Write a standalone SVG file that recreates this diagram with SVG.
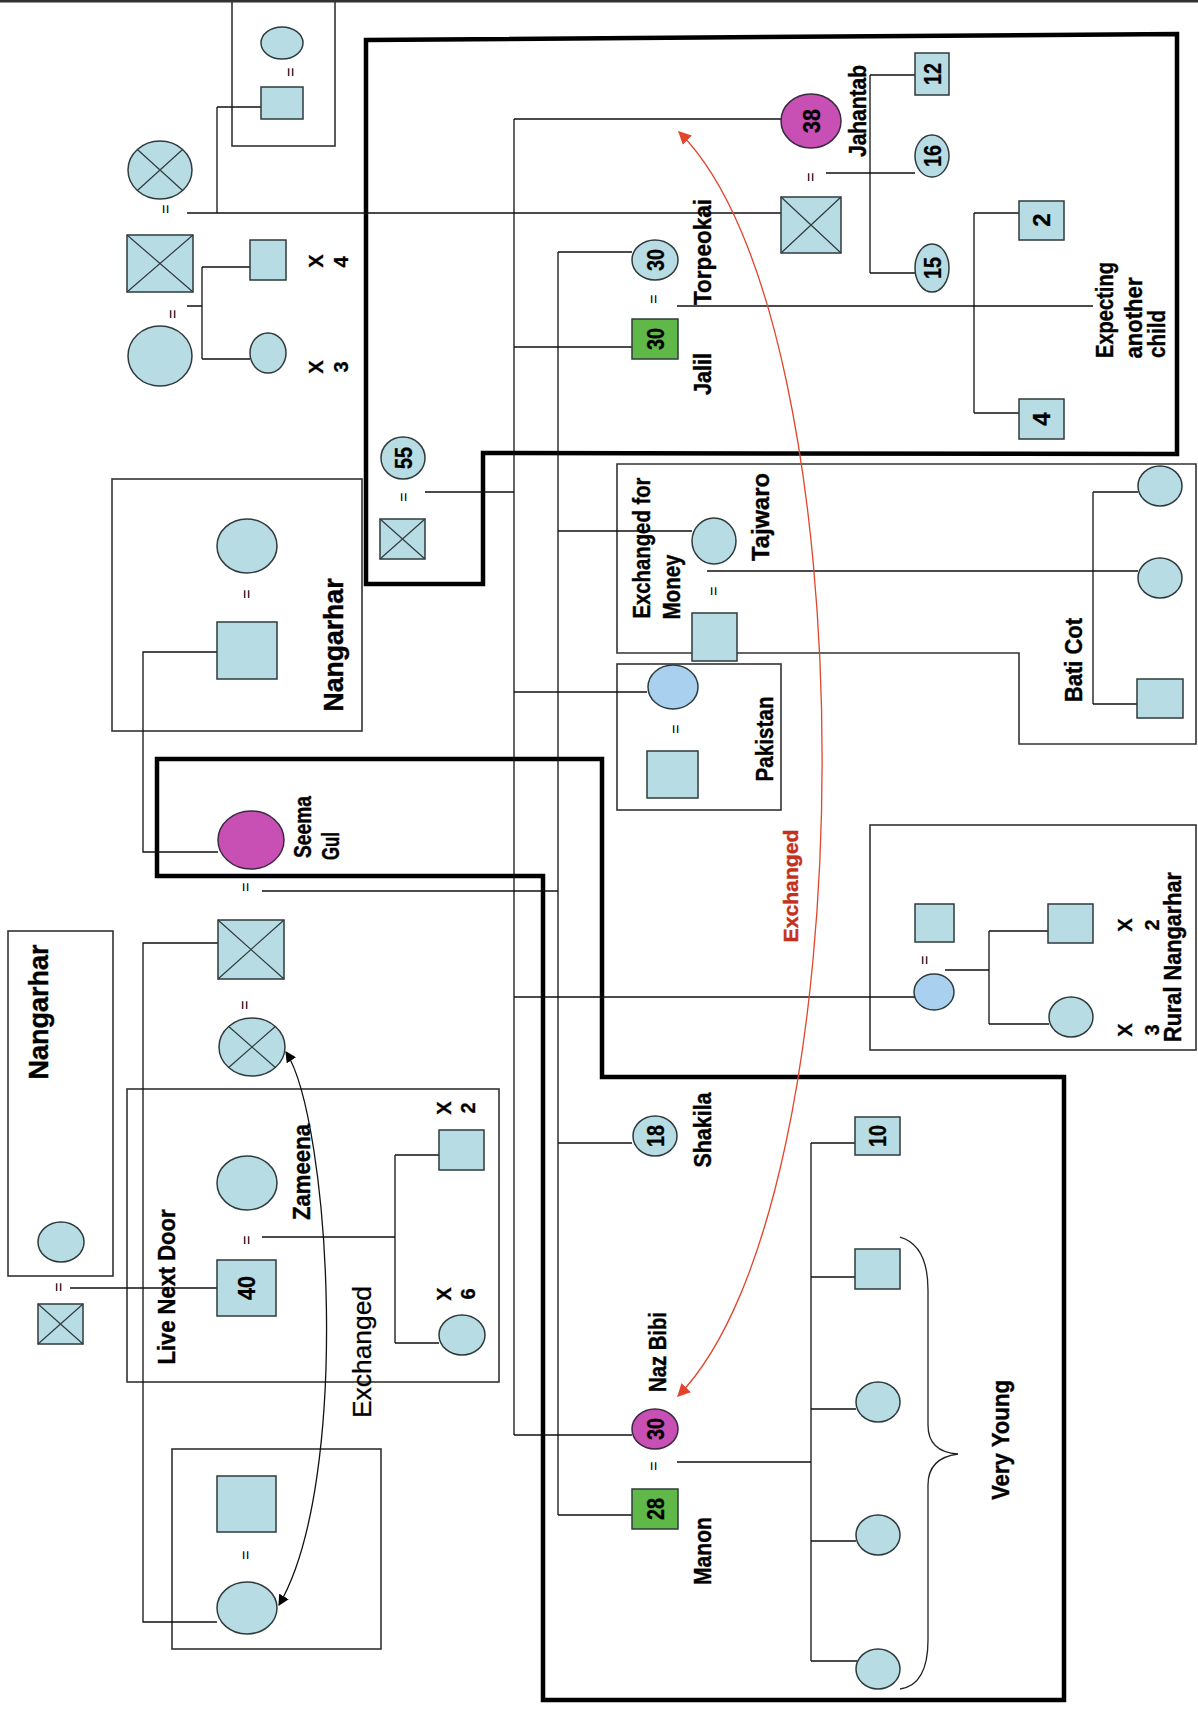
<svg xmlns="http://www.w3.org/2000/svg" width="1198" height="1723" viewBox="0 0 1198 1723">
<style>
.bg{fill:#ffffff}
.n{fill:#b8dce4;stroke:#2f3b3d;stroke-width:1.5}
.mag{fill:#c84fb4;stroke:#3a2a40;stroke-width:1.5}
.grn{fill:#5fb847;stroke:#2f3b3d;stroke-width:1.5}
.blu{fill:#a9d0ee;stroke:#2f3b3d;stroke-width:1.5}
.x{stroke:#2f3b3d;stroke-width:1.2;fill:none}
.box{fill:none;stroke:#333;stroke-width:1.6}
.thick{fill:none;stroke:#000;stroke-width:4.5;stroke-linejoin:miter}
.ln{fill:none;stroke:#111;stroke-width:1.3}
.lbl{font-family:"Liberation Sans",Arial,sans-serif;font-weight:bold;font-size:24px;fill:#000;text-anchor:middle;dominant-baseline:central;stroke:#000;stroke-width:0.4}
.big{font-size:28px}
.num{font-family:"Liberation Sans",Arial,sans-serif;font-weight:bold;font-size:24px;fill:#000;text-anchor:middle;dominant-baseline:central;stroke:#000;stroke-width:0.3}
.eq{font-family:"Liberation Sans",Arial,sans-serif;font-size:16px;fill:#000;text-anchor:middle;dominant-baseline:central}
.sm{font-family:"Liberation Sans",Arial,sans-serif;font-weight:bold;font-size:20px;fill:#000;text-anchor:middle;dominant-baseline:central;stroke:#000;stroke-width:0.3}
</style>
<defs>
<marker id="ab" viewBox="0 0 10 10" refX="9" refY="5" markerWidth="11" markerHeight="11" markerUnits="userSpaceOnUse" orient="auto-start-reverse"><path d="M0,0 L10,5 L0,10 z" fill="#000"/></marker>
<marker id="ar" viewBox="0 0 10 10" refX="9" refY="5" markerWidth="13" markerHeight="13" markerUnits="userSpaceOnUse" orient="auto-start-reverse"><path d="M0,0 L10,5 L0,10 z" fill="#e2452c"/></marker>
</defs>
<rect class="bg" x="0" y="0" width="1198" height="1723"/>
<line x1="0" y1="1.2" x2="1198" y2="1.2" stroke="#333" stroke-width="2.6"/>

<g id="regions">
<rect class="box" x="232" y="-1" width="103" height="147"/>
<rect class="box" x="112" y="479" width="250" height="252"/>
<polygon class="box" points="617,464 1196,464 1196,744 1019,744 1019,653 617,653"/>
<rect class="box" x="617" y="664" width="164" height="146"/>
<rect class="box" x="870" y="825" width="326" height="225"/>
<rect class="box" x="8" y="931" width="105" height="345"/>
<rect class="box" x="127" y="1089" width="372" height="293"/>
<rect class="box" x="172" y="1449" width="209" height="200"/>
<polygon class="thick" points="366,40 1177,34 1177,454 483,453 483,584 366,584"/>
<polygon class="thick" points="157,759 602,759 602,1077 1064,1077 1064,1700 543,1700 543,876 157,876"/>
</g>

<g id="connectors">
<path class="ln" d="M187,213 H781 M217,107 H261 M217,107 V213"/>
<path class="ln" d="M187,306 H202 M202,267 V359 M202,267 H250 M202,359 H250"/>
<path class="ln" d="M514,119 H781 M826,173 H915 M870,75 V273 M870,75 H915 M870,273 H915"/>
<path class="ln" d="M558,252 H632 M514,347 H632 M677,306 H1093 M974,213 V413 M974,213 H1019 M974,413 H1019"/>
<path class="ln" d="M425,492 H514 M514,119 V1435 M558,252 V1515"/>
<path class="ln" d="M217,652 H143 V852 H218"/>
<path class="ln" d="M262,891 H558"/>
<path class="ln" d="M218,943 H143 V1622 H217"/>
<path class="ln" d="M558,531 H692 M707,571 H1138 M1093,492 V704 M1093,492 H1138 M1093,704 H1137"/>
<path class="ln" d="M514,692 H647"/>
<path class="ln" d="M514,997 H915 M945,970 H989 M989,931 V1024 M989,931 H1048 M989,1024 H1049"/>
<path class="ln" d="M558,1143 H632"/>
<path class="ln" d="M514,1435 H632 M558,1515 H632 M677,1462 H811 M811,1143 V1661 M811,1143 H855 M811,1277 H855 M811,1409 H856 M811,1541 H856 M811,1661 H857"/>
<path class="ln" d="M262,1237 H395 M395,1155 V1343 M395,1155 H439 M395,1343 H439"/>
<path class="ln" d="M70,1288 H217"/>
<path d="M900,1237 Q928,1245 928,1290 L928,1425 Q928,1452 958,1454 Q928,1458 928,1485 L928,1640 Q928,1685 900,1689" fill="none" stroke="#222" stroke-width="1.3"/>
<path d="M286,1052 C330,1120 352,1480 279,1605" fill="none" stroke="#111" stroke-width="1.3" marker-start="url(#ab)" marker-end="url(#ab)"/>
<path d="M679,132 C870,320 870,1200 678,1396" fill="none" stroke="#e2452c" stroke-width="1.3" marker-start="url(#ar)" marker-end="url(#ar)"/>
</g>

<g id="top-family">
<g id="n-top-wife"><ellipse class="n" cx="282" cy="43" rx="21" ry="16"/></g>
<text class="eq" transform="translate(290,72) rotate(-90)">=</text>
<g id="n-top-husband"><rect class="n" x="261" y="87" width="42" height="32"/></g>
<g id="n-gm1"><ellipse class="n" cx="160" cy="170" rx="32" ry="29"/><path class="x" d="M137.4,149.5 L182.6,190.5 M182.6,149.5 L137.4,190.5"/></g>
<text class="eq" transform="translate(165,209) rotate(-90)">=</text>
<g id="n-gf1"><rect class="n" x="127" y="235" width="66" height="57"/><path class="x" d="M127,235 L193,292 M193,235 L127,292"/></g>
<text class="eq" transform="translate(172,314) rotate(-90)">=</text>
<g id="n-gm2"><ellipse class="n" cx="160" cy="356" rx="32" ry="30"/></g>
<g id="n-sons4"><rect class="n" x="250" y="240" width="36" height="40"/></g>
<g id="n-daughters3"><ellipse class="n" cx="268" cy="353" rx="18" ry="20"/></g>
<text class="sm" transform="translate(316,261) rotate(-90)">X</text>
<text class="sm" transform="translate(341,262) rotate(-90)">4</text>
<text class="sm" transform="translate(316,367) rotate(-90)">X</text>
<text class="sm" transform="translate(341,367) rotate(-90)">3</text>
</g>

<g id="jalil-family">
<g id="n-jahantab"><ellipse class="mag" cx="811" cy="121" rx="30" ry="27"/><text class="num" transform="translate(811,121) rotate(-90)" textLength="24" lengthAdjust="spacingAndGlyphs">38</text></g>
<text class="lbl" transform="translate(857,111) rotate(-90)" textLength="92" lengthAdjust="spacingAndGlyphs">Jahantab</text>
<text class="eq" transform="translate(810,177) rotate(-90)">=</text>
<g id="n-jahantab-husband"><rect class="n" x="781" y="197" width="60" height="56"/><path class="x" d="M781,197 L841,253 M841,197 L781,253"/></g>
<g id="n-12"><rect class="n" x="915" y="53" width="34" height="42"/><text class="num" transform="translate(932,74) rotate(-90)" textLength="22" lengthAdjust="spacingAndGlyphs">12</text></g>
<g id="n-16"><ellipse class="n" cx="932" cy="156" rx="17" ry="21"/><text class="num" transform="translate(932,156) rotate(-90)" textLength="22" lengthAdjust="spacingAndGlyphs">16</text></g>
<g id="n-15"><ellipse class="n" cx="932" cy="268" rx="17" ry="24"/><text class="num" transform="translate(932,268) rotate(-90)" textLength="22" lengthAdjust="spacingAndGlyphs">15</text></g>
<g id="n-torpeokai"><ellipse class="n" cx="655" cy="260" rx="23" ry="20"/><text class="num" transform="translate(655,260) rotate(-90)" textLength="22" lengthAdjust="spacingAndGlyphs">30</text></g>
<text class="lbl" transform="translate(702,252) rotate(-90)" textLength="106" lengthAdjust="spacingAndGlyphs">Torpeokai</text>
<text class="eq" transform="translate(653,299) rotate(-90)">=</text>
<g id="n-jalil"><rect class="grn" x="632" y="319" width="46" height="40"/><text class="num" transform="translate(655,339) rotate(-90)" textLength="22" lengthAdjust="spacingAndGlyphs">30</text></g>
<text class="lbl" transform="translate(702,374) rotate(-90)" textLength="42" lengthAdjust="spacingAndGlyphs">Jalil</text>
<g id="n-2"><rect class="n" x="1019" y="201" width="45" height="39"/><text class="num" transform="translate(1041,220) rotate(-90)">2</text></g>
<g id="n-4"><rect class="n" x="1019" y="399" width="45" height="40"/><text class="num" transform="translate(1041,419) rotate(-90)">4</text></g>
<text class="lbl" transform="translate(1104,310) rotate(-90)" textLength="96" lengthAdjust="spacingAndGlyphs">Expecting</text>
<text class="lbl" transform="translate(1133,318) rotate(-90)" textLength="81" lengthAdjust="spacingAndGlyphs">another</text>
<text class="lbl" transform="translate(1156,334) rotate(-90)" textLength="48" lengthAdjust="spacingAndGlyphs">child</text>
</g>

<g id="elders">
<g id="n-55"><ellipse class="n" cx="403" cy="458" rx="22" ry="21"/><text class="num" transform="translate(403,458) rotate(-90)" textLength="22" lengthAdjust="spacingAndGlyphs">55</text></g>
<text class="eq" transform="translate(403,497) rotate(-90)">=</text>
<g id="n-55-husband"><rect class="n" x="380" y="519" width="45" height="40"/><path class="x" d="M380,519 L425,559 M425,519 L380,559"/></g>
</g>

<g id="nangarhar-upper">
<g id="n-ng-wife"><ellipse class="n" cx="247" cy="546" rx="30" ry="27"/></g>
<text class="eq" transform="translate(246,594) rotate(-90)">=</text>
<g id="n-ng-husband"><rect class="n" x="217" y="622" width="60" height="57"/></g>
<text class="lbl big" transform="translate(333,645) rotate(-90)" textLength="133" lengthAdjust="spacingAndGlyphs">Nangarhar</text>
</g>

<g id="seema-family">
<g id="n-seema"><ellipse class="mag" cx="251" cy="840" rx="33" ry="29"/></g>
<text class="lbl" transform="translate(302,827) rotate(-90)" textLength="62" lengthAdjust="spacingAndGlyphs">Seema</text>
<text class="lbl" transform="translate(330,846) rotate(-90)" textLength="28" lengthAdjust="spacingAndGlyphs">Gul</text>
<text class="eq" transform="translate(245,887) rotate(-90)">=</text>
<g id="n-seema-husband"><rect class="n" x="218" y="920" width="66" height="59"/><path class="x" d="M218,920 L284,979 M284,920 L218,979"/></g>
<text class="eq" transform="translate(244,1005) rotate(-90)">=</text>
<g id="n-x-wife"><ellipse class="n" cx="252" cy="1047" rx="33" ry="29"/><path class="x" d="M228.7,1026.5 L275.3,1067.5 M275.3,1026.5 L228.7,1067.5"/></g>
</g>

<g id="tajwaro-family">
<g id="n-tajwaro"><ellipse class="n" cx="714" cy="541" rx="22" ry="23"/></g>
<text class="lbl" transform="translate(760,517) rotate(-90)" textLength="88" lengthAdjust="spacingAndGlyphs">Tajwaro</text>
<text class="lbl" transform="translate(641,548) rotate(-90)" textLength="141" lengthAdjust="spacingAndGlyphs">Exchanged  for</text>
<text class="lbl" transform="translate(671,587) rotate(-90)" textLength="65" lengthAdjust="spacingAndGlyphs">Money</text>
<text class="eq" transform="translate(713,591) rotate(-90)">=</text>
<g id="n-tajwaro-husband"><rect class="n" x="692" y="613" width="45" height="48"/></g>
<g id="n-bc1"><ellipse class="n" cx="1160" cy="486" rx="22" ry="20"/></g>
<g id="n-bc2"><ellipse class="n" cx="1160" cy="578" rx="22" ry="20"/></g>
<g id="n-bc3"><rect class="n" x="1137" y="679" width="46" height="39"/></g>
<text class="lbl" transform="translate(1073,660) rotate(-90)" textLength="84" lengthAdjust="spacingAndGlyphs">Bati Cot</text>
</g>

<g id="pakistan-family">
<g id="n-pk-wife"><ellipse class="blu" cx="673" cy="687" rx="25" ry="22"/></g>
<text class="eq" transform="translate(675,729) rotate(-90)">=</text>
<g id="n-pk-husband"><rect class="n" x="647" y="751" width="51" height="47"/></g>
<text class="lbl" transform="translate(764,739) rotate(-90)" textLength="85" lengthAdjust="spacingAndGlyphs">Pakistan</text>
</g>

<text class="lbl" transform="translate(790,886) rotate(-90)" textLength="113" lengthAdjust="spacingAndGlyphs" style="fill:#c4301c;stroke:#c4301c;font-size:21px">Exchanged</text>

<g id="rural-family">
<g id="n-rn-wife"><ellipse class="blu" cx="934" cy="992" rx="20" ry="18"/></g>
<text class="eq" transform="translate(924,960) rotate(-90)">=</text>
<g id="n-rn-husband"><rect class="n" x="915" y="904" width="39" height="38"/></g>
<g id="n-rn-sons"><rect class="n" x="1048" y="904" width="45" height="39"/></g>
<g id="n-rn-daughters"><ellipse class="n" cx="1071" cy="1017" rx="22" ry="20"/></g>
<text class="sm" transform="translate(1125,925) rotate(-90)">X</text>
<text class="sm" transform="translate(1152,925) rotate(-90)">2</text>
<text class="sm" transform="translate(1125,1030) rotate(-90)">X</text>
<text class="sm" transform="translate(1152,1030) rotate(-90)">3</text>
<text class="lbl" transform="translate(1172,957) rotate(-90)" textLength="170" lengthAdjust="spacingAndGlyphs">Rural Nangarhar</text>
</g>

<g id="shakila">
<g id="n-shakila"><ellipse class="n" cx="655" cy="1136" rx="22" ry="20"/><text class="num" transform="translate(655,1136) rotate(-90)" textLength="22" lengthAdjust="spacingAndGlyphs">18</text></g>
<text class="lbl" transform="translate(702,1130) rotate(-90)" textLength="75" lengthAdjust="spacingAndGlyphs">Shakila</text>
</g>

<g id="manon-family">
<g id="n-naz"><ellipse class="mag" cx="655" cy="1429" rx="23" ry="20"/><text class="num" transform="translate(655,1429) rotate(-90)" textLength="22" lengthAdjust="spacingAndGlyphs">30</text></g>
<text class="lbl" transform="translate(657,1352) rotate(-90)" textLength="80" lengthAdjust="spacingAndGlyphs">Naz Bibi</text>
<text class="eq" transform="translate(653,1466) rotate(-90)">=</text>
<g id="n-manon"><rect class="grn" x="632" y="1489" width="46" height="40"/><text class="num" transform="translate(655,1509) rotate(-90)" textLength="22" lengthAdjust="spacingAndGlyphs">28</text></g>
<text class="lbl" transform="translate(702,1551) rotate(-90)" textLength="68" lengthAdjust="spacingAndGlyphs">Manon</text>
<g id="n-10"><rect class="n" x="855" y="1117" width="45" height="38"/><text class="num" transform="translate(877,1136) rotate(-90)" textLength="22" lengthAdjust="spacingAndGlyphs">10</text></g>
<g id="n-c2"><rect class="n" x="855" y="1249" width="45" height="40"/></g>
<g id="n-c3"><ellipse class="n" cx="878" cy="1402" rx="22" ry="20"/></g>
<g id="n-c4"><ellipse class="n" cx="878" cy="1535" rx="22" ry="20"/></g>
<g id="n-c5"><ellipse class="n" cx="878" cy="1669" rx="22" ry="20"/></g>
<text class="lbl" transform="translate(1000,1440) rotate(-90)" textLength="120" lengthAdjust="spacingAndGlyphs">Very Young</text>
</g>

<g id="nangarhar-left">
<text class="lbl big" transform="translate(38,1012) rotate(-90)" textLength="135" lengthAdjust="spacingAndGlyphs">Nangarhar</text>
<g id="n-nl-wife"><ellipse class="n" cx="61" cy="1242" rx="23" ry="20"/></g>
<text class="eq" transform="translate(58,1287) rotate(-90)">=</text>
<g id="n-nl-husband"><rect class="n" x="38" y="1304" width="45" height="40"/><path class="x" d="M38,1304 L83,1344 M83,1304 L38,1344"/></g>
</g>

<g id="zameena-family">
<g id="n-zameena"><ellipse class="n" cx="247" cy="1183" rx="30" ry="27"/></g>
<text class="lbl" transform="translate(301,1172) rotate(-90)" textLength="96" lengthAdjust="spacingAndGlyphs">Zameena</text>
<text class="eq" transform="translate(246,1240) rotate(-90)">=</text>
<g id="n-40"><rect class="n" x="217" y="1260" width="59" height="56"/><text class="num" transform="translate(246,1288) rotate(-90)" textLength="24" lengthAdjust="spacingAndGlyphs">40</text></g>
<text class="lbl" transform="translate(166,1287) rotate(-90)" textLength="155" lengthAdjust="spacingAndGlyphs">Live Next Door</text>
<g id="n-z-sons"><rect class="n" x="439" y="1130" width="45" height="40"/></g>
<g id="n-z-daughters"><ellipse class="n" cx="462" cy="1335" rx="23" ry="20"/></g>
<text class="sm" transform="translate(444,1108) rotate(-90)">X</text>
<text class="sm" transform="translate(468,1108) rotate(-90)">2</text>
<text class="sm" transform="translate(444,1294) rotate(-90)">X</text>
<text class="sm" transform="translate(468,1294) rotate(-90)">6</text>
<text transform="translate(362,1352) rotate(-90)" textLength="132" lengthAdjust="spacingAndGlyphs" style="font-family:'Liberation Sans',Arial,sans-serif;font-size:26px;text-anchor:middle;dominant-baseline:central;fill:#000;stroke:#000;stroke-width:0.3">Exchanged</text>
</g>

<g id="exchange-family">
<g id="n-ex-husband"><rect class="n" x="217" y="1476" width="59" height="56"/></g>
<text class="eq" transform="translate(245,1555) rotate(-90)">=</text>
<g id="n-ex-wife"><ellipse class="n" cx="247" cy="1608" rx="30" ry="26"/></g>
</g>
</svg>
